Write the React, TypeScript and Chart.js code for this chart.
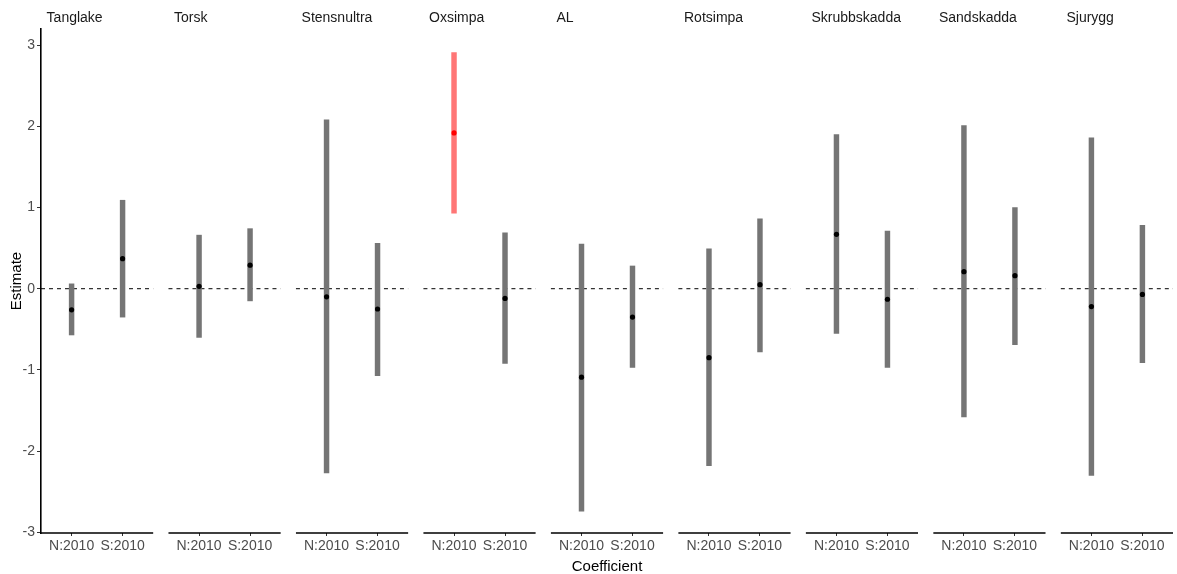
import React, { useEffect, useRef } from 'react';
import { Chart, registerables } from 'chart.js';

Chart.register(...registerables);

// ---------- data ----------
const species = ['Tanglake', 'Torsk', 'Stensnultra', 'Oxsimpa', 'AL', 'Rotsimpa', 'Skrubbskadda', 'Sandskadda', 'Sjurygg'];
const coefficients = ['N:2010', 'S:2010'];

const estimateN = [-0.26, 0.03, -0.10, 1.92, -1.09, -0.85, 0.67, 0.21, -0.22];
const lowerN = [-0.57, -0.60, -2.27, 0.93, -2.74, -2.18, -0.55, -1.58, -2.30];
const upperN = [0.06, 0.66, 2.08, 2.91, 0.55, 0.49, 1.90, 2.01, 1.86];
const significantN = [false, false, false, true, false, false, false, false, false];

const estimateS = [0.37, 0.29, -0.25, -0.12, -0.35, 0.05, -0.13, 0.16, -0.07];
const lowerS = [-0.35, -0.15, -1.07, -0.92, -0.97, -0.78, -0.97, -0.69, -0.91];
const upperS = [1.09, 0.74, 0.56, 0.69, 0.28, 0.86, 0.71, 1.00, 0.78];
const significantS = [false, false, false, false, false, false, false, false, false];

const yTicks = [-3, -2, -1, 0, 1, 2, 3];
const Y_MIN = -3.01;
const Y_MAX = 3.2;

// ---------- facet geometry (in x data units) ----------
const STEP = 2.5;
const PANEL_LO = 0.4;
const PANEL_HI = 2.6;
const STRIP_OFFSET = 0.11;

const panelStart = (i: number) => i * STEP + PANEL_LO;
const panelEnd = (i: number) => i * STEP + PANEL_HI;
const pos = (i: number, k: number) => i * STEP + 1 + k;

const GRAY = '#757575';
const RED_BAR = '#FF7676';
const RED_PT = '#FF0000';
const FONT = "'Liberation Sans', Arial, Helvetica, sans-serif";

export default function App() {
  const ref = useRef<HTMLCanvasElement>(null);

  useEffect(() => {
    const barData: any[] = [];
    const barColors: string[] = [];
    const pointData: any[] = [];
    const pointColors: string[] = [];
    species.forEach((_, i) => {
      barData.push({ x: pos(i, 0), y: [lowerN[i], upperN[i]] });
      barColors.push(significantN[i] ? RED_BAR : GRAY);
      barData.push({ x: pos(i, 1), y: [lowerS[i], upperS[i]] });
      barColors.push(significantS[i] ? RED_BAR : GRAY);
      pointData.push({ x: pos(i, 0), y: estimateN[i] });
      pointColors.push(significantN[i] ? RED_PT : '#000000');
      pointData.push({ x: pos(i, 1), y: estimateS[i] });
      pointColors.push(significantS[i] ? RED_PT : '#000000');
    });

    const zeroLine: any[] = [];
    const axisLine: any[] = [];
    species.forEach((_, i) => {
      zeroLine.push({ x: panelStart(i), y: 0 }, { x: panelEnd(i), y: 0 }, { x: panelEnd(i) + 0.1, y: null });
      axisLine.push({ x: panelStart(i), y: Y_MIN }, { x: panelEnd(i), y: Y_MIN }, { x: panelEnd(i) + 0.1, y: null });
    });

    const xMin = panelStart(0);
    const xMax = panelEnd(species.length - 1);

    Chart.defaults.font.family = FONT;

    const chart = new Chart(ref.current!, {
      type: 'bar',
      data: {
        datasets: [
          {
            type: 'line',
            data: pointData,
            showLine: false,
            pointRadius: 2.6,
            pointBorderWidth: 0,
            pointBackgroundColor: pointColors,
            order: 0,
          } as any,
          {
            type: 'bar',
            data: barData,
            backgroundColor: barColors,
            borderWidth: 0,
            barThickness: 4.8,
            order: 1,
          } as any,
          {
            type: 'line',
            data: zeroLine,
            borderColor: '#000000',
            borderWidth: 1,
            borderDash: [4, 4],
            pointRadius: 0,
            spanGaps: false,
            order: 2,
          } as any,
          {
            type: 'line',
            data: axisLine,
            borderColor: '#000000',
            borderWidth: 1.6,
            pointRadius: 0,
            spanGaps: false,
            clip: false,
            order: 3,
          } as any,
        ],
      },
      options: {
        animation: false,
        responsive: true,
        maintainAspectRatio: false,
        events: [],
        layout: { padding: { left: 9, right: 1.5, top: 0, bottom: 0 } },
        plugins: { legend: { display: false }, tooltip: { enabled: false } },
        scales: {
          x: {
            type: 'linear',
            position: 'bottom',
            min: xMin,
            max: xMax,
            offset: false,
            border: { display: false },
            grid: { display: true, drawOnChartArea: false, drawTicks: true, tickLength: 3, color: '#333333', offset: false },
            afterBuildTicks: (scale: any) => {
              const t: any[] = [];
              species.forEach((_, i) => { t.push({ value: pos(i, 0) }, { value: pos(i, 1) }); });
              scale.ticks = t;
            },
            afterFit: (scale: any) => { scale.height = 41; },
            ticks: {
              autoSkip: false,
              maxRotation: 0,
              minRotation: 0,
              padding: 2,
              color: '#4D4D4D',
              font: { size: 14, family: FONT },
              callback: (_v: any, idx: number) => coefficients[idx % 2],
            },
            title: {
              display: true,
              text: 'Coefficient',
              color: '#000000',
              font: { size: 15, family: FONT, lineHeight: 1 },
              padding: { top: 0, bottom: 0 },
            },
          },
          x2: {
            type: 'linear',
            axis: 'x',
            position: 'top',
            min: xMin,
            max: xMax,
            offset: false,
            border: { display: false },
            grid: { display: false, drawTicks: false },
            afterBuildTicks: (scale: any) => {
              scale.ticks = species.map((_, i) => ({ value: panelStart(i) + STRIP_OFFSET }));
            },
            afterFit: (scale: any) => { scale.height = 29; },
            ticks: {
              autoSkip: false,
              maxRotation: 0,
              minRotation: 0,
              align: 'start',
              padding: 2,
              color: '#1A1A1A',
              font: { size: 14, family: FONT },
              callback: (_v: any, idx: number) => species[idx],
            },
          },
          y: {
            type: 'linear',
            min: Y_MIN,
            max: Y_MAX,
            border: { display: true, color: '#000000', width: 1.6 },
            grid: { display: true, drawOnChartArea: false, drawTicks: true, tickLength: 4, color: '#333333' },
            afterBuildTicks: (scale: any) => {
              scale.ticks = yTicks.map((v) => ({ value: v }));
            },
            afterFit: (scale: any) => { scale.width = 32; },
            ticks: {
              padding: 2,
              color: '#4D4D4D',
              font: { size: 14, family: FONT },
              callback: (v: any) => String(v),
            },
            title: {
              display: true,
              text: 'Estimate',
              color: '#000000',
              font: { size: 15, family: FONT, lineHeight: 1 },
              padding: { top: 0, bottom: 0 },
            },
          },
        },
      } as any,
    });
    return () => chart.destroy();
  }, []);

  return (
    <div style={{ position: 'absolute', left: 0, top: 0, width: 1177, height: 574, background: '#ffffff' }}>
      <canvas ref={ref} />
    </div>
  );
}
